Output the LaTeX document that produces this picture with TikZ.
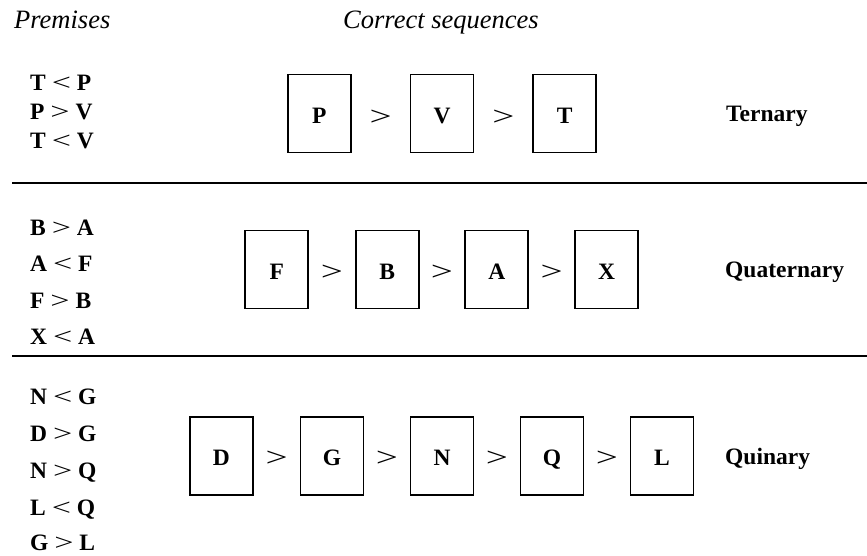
\documentclass[tikz,border=0pt]{standalone}
\usepackage{fontspec}
\usepackage{graphicx}
\setmainfont{Liberation Serif}
\newcommand\relsym[1]{{\mdseries\scalebox{1.45}[1.0]{#1}}}
\begin{document}
\begin{tikzpicture}[x=1pt,y=-1pt,
  bx/.style={draw,line width=1.8pt,minimum width=63pt,minimum height=78pt,inner sep=0pt,text height=20pt,text depth=0pt,font=\fontsize{23.5}{28}\selectfont\bfseries},
  gt/.style={inner sep=0pt,font=\fontsize{27}{27}\selectfont},
  prem/.style={anchor=base west,inner sep=0pt,font=\fontsize{23.5}{28}\selectfont\bfseries},
  lbl/.style={anchor=base west,inner sep=0pt,font=\fontsize{23.5}{28}\selectfont\bfseries},
  hdr/.style={anchor=base west,inner sep=0pt,font=\fontsize{26.5}{30}\selectfont\itshape},
  rule/.style={line width=2pt}]
\useasboundingbox (0,0) rectangle (867,555);
% headers
\node[hdr] (h1) at (14,28) {Premises};
\node[hdr] (h2) at (343,28) {Correct sequences};
% rules
\coordinate (r1a) at (12,182.5); \coordinate (r1b) at (867,182.5);
\coordinate (r2a) at (12,356); \coordinate (r2b) at (867,356);
\draw[rule] (r1a) -- (r1b);
\draw[rule] (r2a) -- (r2b);
% premises row 1
\node[prem] (p11) at (30,90) {T \relsym{<} P};
\node[prem] (p12) at (30,119) {P \relsym{>} V};
\node[prem] (p13) at (30,148) {T \relsym{<} V};
% premises row 2
\node[prem] (p21) at (30,235) {B \relsym{>} A};
\node[prem] (p22) at (30,271) {A \relsym{<} F};
\node[prem] (p23) at (30,308) {F \relsym{>} B};
\node[prem] (p24) at (30,344) {X \relsym{<} A};
% premises row 3
\node[prem] (p31) at (30,404) {N \relsym{<} G};
\node[prem] (p32) at (30,441) {D \relsym{>} G};
\node[prem] (p33) at (30,478) {N \relsym{>} Q};
\node[prem] (p34) at (30,515) {L \relsym{<} Q};
\node[prem] (p35) at (30,550) {G \relsym{>} L};
% row 1 boxes
\node[bx] (b1P) at (319.2,113.5) {P};
\node[bx] (b1V) at (442,113.5) {V};
\node[bx] (b1T) at (564.7,113.5) {T};
\node[gt] (g11) at (380.6,117.5) {\relsym{>}};
\node[gt] (g12) at (503.3,117.5) {\relsym{>}};
\node[lbl] (t1) at (726,121.5) {Ternary};
% row 2 boxes
\node[bx] (b2F) at (276.7,269.5) {F};
\node[bx] (b2B) at (387.2,269.5) {B};
\node[bx] (b2A) at (496.8,269.5) {A};
\node[bx] (b2X) at (606.5,269.5) {X};
\node[gt] (g21) at (332,272.5) {\relsym{>}};
\node[gt] (g22) at (442,272.5) {\relsym{>}};
\node[gt] (g23) at (551.7,272.5) {\relsym{>}};
\node[lbl] (t2) at (725,277.3) {Quaternary};
% row 3 boxes
\node[bx] (b3D) at (221.4,455.7) {D};
\node[bx] (b3G) at (332,455.7) {G};
\node[bx] (b3N) at (442,455.7) {N};
\node[bx] (b3Q) at (552,455.7) {Q};
\node[bx] (b3L) at (662,455.7) {L};
\node[gt] (g31) at (276.7,458.5) {\relsym{>}};
\node[gt] (g32) at (387,458.5) {\relsym{>}};
\node[gt] (g33) at (497,458.5) {\relsym{>}};
\node[gt] (g34) at (607,458.5) {\relsym{>}};
\node[lbl] (t3) at (725,464) {Quinary};
\end{tikzpicture}
\end{document}
